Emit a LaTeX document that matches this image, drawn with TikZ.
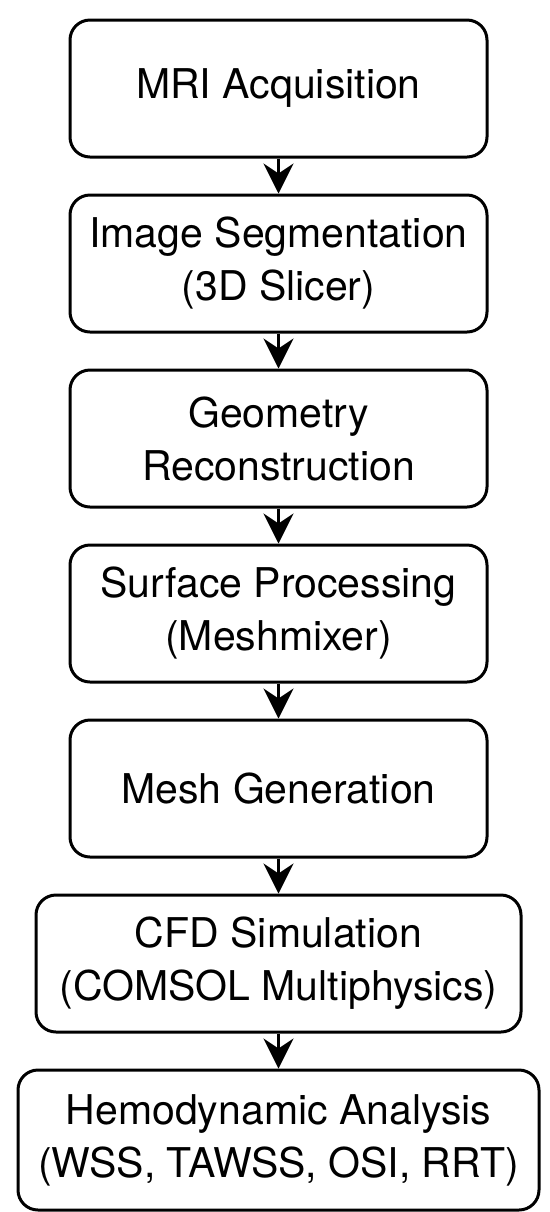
\documentclass[tikz,border=0pt]{standalone}
\usepackage{fontspec}
\setmainfont{TeX Gyre Heros}
\usepackage{tikz}
\usetikzlibrary{positioning,arrows.meta}
\tikzset{
  stage/.style={draw=black, line width=1.5pt, rounded corners=10pt,
    align=center, inner sep=4pt, fill=white, minimum width=208.5pt,
    minimum height=68.5pt, font=\fontsize{20.5pt}{26.5pt}\selectfont},
  widestage/.style={stage, minimum width=242.5pt},
  widerstage/.style={stage, minimum width=260.5pt, minimum height=70pt},
  flow/.style={-{Stealth[length=15pt, width=15pt, inset=5pt]}, line width=1.5pt, draw=black},
}
\begin{document}
\begin{tikzpicture}
\useasboundingbox (0,0) rectangle (275pt,-606pt);
% one column of stages, equal gaps between them
\node[stage] (mri) at (139.25pt,-44.25pt) {MRI Acquisition};
\node[stage, below=17.5pt of mri] (seg) {Image Segmentation\\(3D Slicer)};
\node[stage, below=17.5pt of seg] (geo) {Geometry\\Reconstruction};
\node[stage, below=17.5pt of geo] (surf) {Surface Processing\\(Meshmixer)};
\node[stage, below=17.5pt of surf] (mesh) {Mesh Generation};
\node[widestage, below=17.5pt of mesh] (cfd) {CFD Simulation\\(COMSOL Multiphysics)};
\node[widerstage, below=17.5pt of cfd] (hemo) {Hemodynamic Analysis\\(WSS, TAWSS, OSI, RRT)};
\foreach \a/\b in {mri/seg, seg/geo, geo/surf, surf/mesh, mesh/cfd, cfd/hemo}
  \draw[flow] (\a.south) -- (\b.north);
\end{tikzpicture}
\end{document}
